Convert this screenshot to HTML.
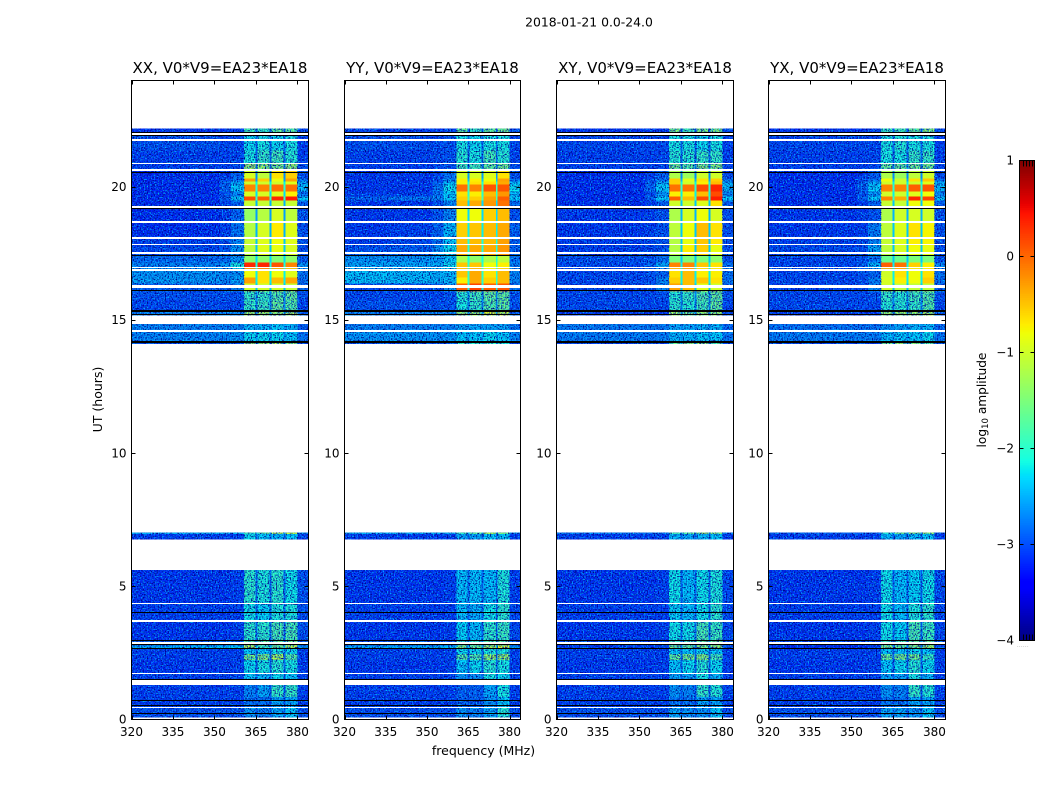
<!DOCTYPE html>
<html lang="en">
<head>
<meta charset="utf-8">
<title>2018-01-21 0.0-24.0</title>
<style>
html,body{margin:0;padding:0;background:#fff;}
body{width:1050px;height:800px;overflow:hidden;}
svg{display:block;}
text{font-family:"DejaVu Sans","Liberation Sans",sans-serif;fill:#000;}
</style>
</head>
<body>
<svg id="chart" xmlns="http://www.w3.org/2000/svg" width="1050" height="800" viewBox="0 0 1050 800">
  <defs>
    <filter id="speckle-dark" x="0" y="0" width="1" height="1" color-interpolation-filters="sRGB">
      <feTurbulence type="fractalNoise" baseFrequency="0.72" numOctaves="1" seed="3"/>
      <feColorMatrix type="matrix" values="0 0 0 0 0  0 0 0 0 0  0 0 0 0 0.55  3.6 0 0 0 -1.55"/>
    </filter>
    <filter id="speckle-light" x="0" y="0" width="1" height="1" color-interpolation-filters="sRGB">
      <feTurbulence type="fractalNoise" baseFrequency="0.72" numOctaves="1" seed="11"/>
      <feColorMatrix type="matrix" values="0 0 0 0 0  0 0 0 0 0.8  0 0 0 0 1  0 3.2 0 0 -1.6"/>
    </filter>
  </defs>
  <text x="589" y="26.5" font-size="12.4" text-anchor="middle">2018-01-21 0.0-24.0</text>
  <text x="483.5" y="755" font-size="12.5" text-anchor="middle">frequency (MHz)</text>
  <text x="102" y="399.5" font-size="12.5" text-anchor="middle" transform="rotate(-90 102 399.5)">UT (hours)</text>
  <text x="986" y="400" font-size="12.2" text-anchor="middle" transform="rotate(-90 986 400)">log<tspan font-size="8.5" dy="2">10</tspan><tspan dy="-2"> amplitude</tspan></text>
  <text x="1017" y="647" font-size="5" letter-spacing="0.4" style="fill:#888">......</text>
  <g id="panels"></g>
  <g id="colorbar"></g>
</svg>
<script>
// ---- chart data: amplitudes are log10 values ----
const panelTitles = ["XX, V0*V9=EA23*EA18", "YY, V0*V9=EA23*EA18", "XY, V0*V9=EA23*EA18", "YX, V0*V9=EA23*EA18"];
const xTicks = [320, 335, 350, 365, 380];
const yTicks = [0, 5, 10, 15, 20];
const colorbarTicks = [-4, -3, -2, -1, 0, 1];
// frequency channel edges (MHz) and the column of each level row they read
const channelEdges = [320, 336, 352, 356, 360.7, 364.8, 365.5, 369.9, 370.6, 375, 375.7, 380, 384];
const channelColumn = [0, 1, 2, 3, 4, 9, 5, 9, 6, 9, 7, 8];
// time rows: [upper hour, lower hour]
const timeRows = [
[22.20,22.05],[22.05,21.37],[21.37,20.88],[20.88,20.62],[20.62,20.32],[20.32,20.21],[20.21,20.10],[20.10,19.83],
[19.83,19.65],[19.65,19.50],[19.50,19.23],[19.23,18.67],[18.67,18.07],[18.07,17.81],[17.81,17.43],[17.43,17.17],
[17.17,16.94],[16.94,16.61],[16.61,16.38],[16.38,16.08],[16.08,15.74],[15.74,15.33],[15.33,15.18],[14.85,14.55],
[14.55,14.17],[14.17,14.10],[7.02,6.96],[6.96,6.76],[5.61,4.33],[4.33,3.70],[3.70,2.95],[2.95,2.78],
[2.78,2.66],[2.66,2.46],[2.46,2.23],[2.23,1.71],[1.71,1.48],[1.29,0.84],[0.84,0.43],[0.43,0.08]];
// level columns: low-a, low-b, shoulder-a, shoulder-b, band1, band2, band3, band4, edge, notch
const levelsXX = [
[-3.15,-3.15,-3.15,-3.1,-1.8,-1.9,-1.6,-1.6,-3.0,-3.0],
[-3.0,-3.0,-3.05,-3.05,-2.2,-2.1,-2.2,-2.1,-3.1,-2.9],
[-3.1,-3.1,-3.1,-3.05,-2.1,-1.9,-1.8,-2.0,-3.1,-2.9],
[-3.1,-3.1,-3.1,-3.05,-1.2,-1.3,-1.4,-1.3,-3.0,-2.8],
[-3.2,-3.2,-3.1,-2.9,-0.95,-1.1,-0.65,-0.55,-3.0,-2.7],
[-3.2,-3.2,-3.0,-2.8,-0.3,-0.55,-0.8,-0.3,-2.8,-2.6],
[-3.2,-3.2,-2.9,-2.5,-1.0,-1.0,-1.0,-0.9,-2.5,-2.2],
[-3.2,-3.2,-2.9,-2.3,-0.15,-0.15,-0.05,-0.05,-2.4,-2.0],
[-3.2,-3.2,-3.0,-2.7,-0.95,-0.95,-0.9,-0.72,-2.8,-2.3],
[-3.2,-3.2,-2.9,-2.3,0.15,0.05,0.35,0.4,-2.3,-1.9],
[-3.2,-3.2,-3.1,-2.9,-1.05,-1.05,-1.05,-1.05,-2.9,-2.5],
[-3.2,-3.2,-3.1,-2.9,-1.35,-1.15,-0.95,-1.1,-3.0,-2.6],
[-3.2,-3.2,-3.1,-2.8,-1.15,-0.95,-0.7,-0.9,-3.0,-2.5],
[-3.1,-3.1,-3.0,-2.7,-1.05,-0.9,-0.8,-0.9,-3.0,-2.4],
[-3.05,-3.05,-2.95,-2.6,-1.1,-0.9,-0.85,-0.95,-3.0,-2.4],
[-2.85,-2.85,-2.8,-2.6,-1.4,-1.4,-1.45,-1.4,-2.9,-2.3],
[-2.7,-2.7,-2.6,-2.1,0.35,0.35,0.1,-0.15,-2.6,-2.1],
[-2.6,-2.6,-2.7,-2.6,-0.8,-0.65,-0.8,-0.9,-2.8,-2.2],
[-2.55,-2.6,-2.7,-2.55,-0.3,-0.65,-0.45,-0.35,-2.8,-2.2],
[-2.9,-2.9,-2.9,-2.7,-1.0,-1.0,-1.0,-1.05,-2.9,-2.4],
[-3.0,-3.0,-3.0,-3.0,-1.9,-1.9,-1.7,-1.6,-3.0,-2.7],
[-3.05,-3.05,-3.05,-3.05,-1.9,-1.85,-1.6,-1.7,-3.05,-2.7],
[-2.7,-2.7,-2.7,-2.7,-1.2,-1.2,-1.3,-1.2,-2.9,-2.6],
[-2.7,-2.7,-2.7,-2.7,-2.4,-2.4,-2.3,-2.4,-2.9,-2.6],
[-2.7,-2.7,-2.7,-2.6,-2.2,-2.2,-2.2,-2.3,-2.8,-2.6],
[-3.0,-3.0,-3.0,-3.0,-1.3,-1.3,-1.1,-1.3,-3.0,-2.8],
[-2.5,-2.5,-2.5,-2.5,-1.9,-1.6,-1.1,-1.1,-2.6,-2.4],
[-3.1,-3.1,-3.1,-3.1,-2.2,-2.3,-2.4,-2.3,-3.1,-2.9],
[-3.15,-3.15,-3.15,-3.1,-1.95,-2.05,-1.95,-2.15,-3.0,-2.9],
[-3.1,-3.1,-3.1,-3.1,-2.15,-2.25,-2.05,-2.05,-3.0,-2.9],
[-3.15,-3.15,-3.15,-3.1,-1.95,-1.95,-1.75,-1.75,-3.0,-2.9],
[-2.9,-2.9,-2.9,-2.9,-1.6,-1.6,-1.5,-1.5,-3.0,-2.8],
[-2.5,-2.4,-2.4,-2.3,-1.0,-1.8,-1.5,-1.0,-2.6,-2.3],
[-3.1,-3.1,-3.1,-3.1,-2.3,-2.3,-2.1,-2.2,-3.1,-2.9],
[-3.1,-3.1,-3.1,-3.1,-1.5,-1.4,-1.2,-1.7,-3.1,-2.9],
[-3.15,-3.15,-3.15,-3.1,-2.2,-2.1,-2.0,-2.1,-3.1,-2.9],
[-3.1,-3.1,-3.1,-3.1,-2.3,-2.4,-2.2,-2.3,-3.1,-2.9],
[-3.1,-3.1,-3.1,-3.1,-2.7,-2.5,-1.9,-1.9,-3.1,-3.0],
[-3.1,-3.1,-3.1,-3.1,-2.8,-2.8,-2.5,-2.5,-3.1,-3.0],
[-3.0,-3.0,-3.0,-3.0,-2.6,-2.7,-2.5,-2.3,-3.0,-2.9]];
const levelsYY = [
[-3.1,-3.1,-3.1,-3.05,-1.6,-1.9,-1.6,-1.5,-3.0,-3.0],
[-3.0,-3.0,-3.05,-3.0,-2.1,-2.2,-2.1,-2.1,-3.05,-2.9],
[-3.1,-3.1,-3.05,-3.0,-2.0,-2.1,-1.8,-2.0,-3.05,-2.9],
[-3.1,-3.1,-3.05,-3.0,-1.8,-1.8,-1.6,-1.5,-3.0,-2.8],
[-3.15,-3.15,-3.05,-2.8,-0.95,-0.95,-0.9,-0.65,-3.0,-2.6],
[-3.15,-3.15,-3.0,-2.7,-0.72,-0.72,-0.8,-0.3,-2.8,-2.4],
[-3.15,-3.15,-2.9,-2.4,-0.72,-0.65,-0.65,-0.35,-2.4,-2.1],
[-3.15,-3.15,-2.8,-2.2,-0.05,-0.15,0.1,0.1,-2.2,-1.9],
[-3.1,-3.1,-2.8,-2.3,-0.65,-0.72,-0.45,-0.25,-2.4,-2.0],
[-2.9,-2.8,-2.7,-2.3,-0.55,-0.55,-0.3,0.05,-2.3,-1.8],
[-3.15,-3.15,-3.0,-2.7,-0.45,-0.35,-0.25,-0.05,-2.8,-2.3],
[-3.15,-3.15,-3.0,-2.7,-0.8,-0.8,-0.55,-0.45,-3.0,-2.3],
[-3.15,-3.1,-2.9,-2.4,-0.55,-0.5,-0.45,-0.35,-2.9,-2.2],
[-3.1,-3.05,-2.8,-2.3,-0.45,-0.45,-0.45,-0.3,-2.9,-2.1],
[-3.0,-2.95,-2.6,-2.2,-0.35,-0.35,-0.35,-0.25,-2.9,-2.1],
[-2.6,-2.6,-2.55,-2.3,-1.2,-1.4,-1.2,-1.1,-2.8,-2.1],
[-2.5,-2.5,-2.45,-2.2,-0.5,-0.5,-0.8,-0.72,-2.7,-2.0],
[-2.35,-2.4,-2.45,-2.4,-0.5,-0.35,-0.65,-0.45,-2.7,-2.0],
[-2.35,-2.4,-2.45,-2.4,-0.72,-0.35,-0.55,-0.45,-2.7,-2.0],
[-3.0,-3.0,-2.9,-2.6,0.05,0.2,0.05,0.1,-2.8,-2.2],
[-3.05,-3.05,-3.05,-3.0,-2.0,-1.8,-1.6,-1.6,-3.0,-2.7],
[-3.0,-3.0,-3.0,-3.0,-2.1,-1.9,-1.7,-1.6,-3.0,-2.7],
[-2.7,-2.7,-2.7,-2.7,-1.25,-1.2,-0.9,-0.95,-2.9,-2.6],
[-2.7,-2.7,-2.7,-2.7,-2.5,-2.5,-2.5,-2.5,-2.8,-2.6],
[-2.6,-2.6,-2.6,-2.6,-2.3,-2.3,-2.2,-2.3,-2.7,-2.5],
[-3.0,-3.0,-3.0,-3.0,-2.0,-2.0,-1.9,-2.0,-3.0,-2.8],
[-2.5,-2.5,-2.5,-2.5,-1.9,-1.7,-1.2,-1.5,-2.6,-2.4],
[-3.1,-3.1,-3.1,-3.1,-2.5,-2.5,-2.3,-2.3,-3.1,-2.9],
[-3.15,-3.15,-3.15,-3.1,-2.35,-2.35,-2.35,-2.05,-3.1,-2.9],
[-3.1,-3.1,-3.1,-3.1,-2.35,-2.45,-2.15,-1.95,-3.05,-2.9],
[-3.15,-3.15,-3.15,-3.1,-2.25,-2.35,-1.95,-1.85,-3.05,-2.9],
[-2.95,-2.95,-2.95,-2.95,-1.9,-1.9,-1.7,-1.6,-3.0,-2.8],
[-2.5,-2.5,-2.45,-2.4,-1.4,-1.5,-1.1,-0.8,-2.6,-2.3],
[-3.1,-3.1,-3.1,-3.1,-2.2,-2.2,-2.1,-2.1,-3.1,-2.9],
[-3.1,-3.1,-3.1,-3.1,-1.7,-1.7,-1.3,-1.3,-3.1,-2.9],
[-3.15,-3.15,-3.15,-3.1,-2.3,-2.2,-2.0,-2.1,-3.1,-2.9],
[-3.1,-3.1,-3.1,-3.1,-2.6,-2.6,-2.1,-2.2,-3.1,-2.9],
[-3.1,-3.1,-3.1,-3.1,-2.9,-2.9,-2.5,-2.1,-3.1,-3.0],
[-3.1,-3.1,-3.1,-3.1,-2.9,-2.9,-2.6,-2.3,-3.1,-3.0],
[-3.0,-3.0,-3.0,-3.0,-2.6,-2.7,-2.5,-2.0,-3.0,-2.9]];
const levelsXY = [
[-3.15,-3.15,-3.15,-3.1,-1.4,-1.8,-1.4,-1.4,-3.05,-3.0],
[-3.05,-3.05,-3.05,-3.05,-2.1,-2.1,-2.2,-2.1,-3.1,-2.9],
[-3.1,-3.1,-3.1,-3.05,-2.0,-2.0,-1.9,-1.9,-3.1,-2.9],
[-3.1,-3.1,-3.1,-3.05,-1.5,-1.7,-1.4,-1.4,-3.05,-2.8],
[-3.2,-3.2,-3.1,-2.9,-1.2,-1.3,-1.0,-1.0,-3.0,-2.7],
[-3.2,-3.2,-3.0,-2.8,-0.55,-0.9,-0.65,-0.55,-2.8,-2.5],
[-3.2,-3.2,-2.9,-2.5,-0.55,-1.0,-0.72,-0.45,-2.5,-2.2],
[-3.2,-3.2,-2.9,-2.3,-0.05,-0.05,0.15,0.35,-2.4,-2.0],
[-3.2,-3.2,-3.0,-2.6,-0.72,-0.72,-0.45,0.15,-2.7,-2.2],
[-3.2,-3.2,-2.9,-2.3,0.05,-0.45,0.15,0.4,-2.3,-1.9],
[-3.2,-3.2,-3.1,-2.9,-1.0,-1.0,-0.9,-0.65,-2.9,-2.4],
[-3.15,-3.15,-3.1,-3.0,-1.2,-0.95,-0.8,-0.95,-3.0,-2.5],
[-3.15,-3.15,-3.1,-3.0,-1.1,-0.8,-0.45,-0.65,-3.0,-2.4],
[-3.1,-3.1,-3.05,-3.0,-1.15,-0.85,-0.5,-0.7,-3.0,-2.4],
[-3.1,-3.1,-3.05,-3.0,-1.15,-0.72,-0.55,-0.85,-3.0,-2.4],
[-3.0,-3.0,-3.0,-2.8,-1.5,-1.5,-1.5,-1.4,-3.0,-2.4],
[-3.05,-3.05,-2.9,-2.5,-0.15,-0.15,-0.5,-0.65,-2.8,-2.2],
[-3.05,-3.05,-3.0,-2.9,-0.65,-0.45,-0.72,-0.72,-2.8,-2.2],
[-3.05,-3.05,-3.0,-2.7,-0.55,-0.45,-0.5,-0.65,-2.8,-2.2],
[-3.05,-3.05,-3.0,-2.7,-0.3,-0.45,-0.9,-1.0,-2.9,-2.4],
[-3.05,-3.05,-3.05,-3.0,-2.0,-1.9,-1.7,-1.6,-3.0,-2.7],
[-3.05,-3.05,-3.05,-3.05,-1.95,-2.0,-1.8,-1.6,-3.05,-2.7],
[-3.1,-3.1,-3.1,-3.1,-1.25,-1.5,-1.3,-1.3,-3.0,-2.7],
[-2.75,-2.75,-2.75,-2.75,-2.5,-2.5,-2.4,-2.4,-2.85,-2.7],
[-2.75,-2.75,-2.75,-2.75,-2.4,-2.4,-2.3,-2.3,-2.8,-2.6],
[-3.05,-3.05,-3.05,-3.05,-1.6,-1.4,-1.3,-1.7,-3.0,-2.8],
[-2.8,-2.8,-2.8,-2.8,-1.8,-1.7,-1.3,-1.4,-2.8,-2.6],
[-3.1,-3.1,-3.1,-3.1,-2.4,-2.5,-2.4,-2.3,-3.1,-2.9],
[-3.15,-3.15,-3.15,-3.1,-2.15,-2.35,-2.15,-2.05,-3.05,-2.9],
[-3.1,-3.1,-3.1,-3.1,-2.25,-2.35,-2.15,-1.95,-3.05,-2.9],
[-3.15,-3.15,-3.15,-3.1,-2.15,-2.15,-1.75,-1.85,-3.05,-2.9],
[-3.05,-3.05,-3.05,-3.05,-1.8,-1.8,-1.6,-1.5,-3.05,-2.9],
[-3.1,-3.1,-3.1,-3.05,-1.4,-1.6,-1.4,-1.2,-3.0,-2.7],
[-3.1,-3.1,-3.1,-3.1,-2.3,-2.3,-2.2,-2.3,-3.1,-2.9],
[-3.1,-3.1,-3.1,-3.1,-1.6,-1.5,-1.4,-1.8,-3.1,-2.9],
[-3.15,-3.15,-3.15,-3.1,-2.3,-2.2,-2.0,-2.2,-3.1,-2.9],
[-3.1,-3.1,-3.1,-3.1,-2.5,-2.5,-2.1,-2.4,-3.1,-2.9],
[-3.1,-3.1,-3.1,-3.1,-2.6,-2.7,-1.9,-2.0,-3.1,-3.0],
[-3.1,-3.1,-3.1,-3.1,-2.8,-2.8,-2.5,-2.5,-3.1,-3.0],
[-3.0,-3.0,-3.0,-3.0,-2.5,-2.6,-2.6,-2.3,-3.0,-2.9]];
const levelsYX = [
[-3.15,-3.15,-3.15,-3.1,-1.9,-1.8,-1.6,-1.4,-3.05,-3.0],
[-3.05,-3.05,-3.05,-3.05,-2.1,-2.0,-2.1,-2.1,-3.1,-2.9],
[-3.1,-3.1,-3.1,-3.05,-2.1,-2.1,-1.9,-1.9,-3.1,-2.9],
[-3.1,-3.1,-3.1,-3.05,-1.6,-1.6,-1.5,-1.5,-3.05,-2.8],
[-3.2,-3.2,-3.1,-2.95,-1.2,-1.3,-1.1,-1.0,-3.0,-2.7],
[-3.2,-3.2,-3.0,-2.8,-0.8,-1.0,-0.65,-0.5,-2.8,-2.5],
[-3.2,-3.2,-2.9,-2.5,-1.0,-1.0,-1.0,-0.9,-2.5,-2.2],
[-3.2,-3.2,-2.9,-2.3,-0.15,-0.15,0.05,0.1,-2.4,-2.0],
[-3.2,-3.2,-3.0,-2.6,-1.0,-1.0,-0.9,-0.8,-2.7,-2.2],
[-3.2,-3.2,-2.9,-2.3,-0.15,-0.35,0.35,0.2,-2.3,-1.9],
[-3.2,-3.2,-3.1,-2.9,-1.05,-1.05,-0.8,-0.8,-2.9,-2.4],
[-3.15,-3.15,-3.1,-3.0,-1.2,-1.0,-0.95,-1.0,-3.0,-2.5],
[-3.15,-3.15,-3.1,-2.75,-1.1,-0.9,-0.65,-0.75,-3.0,-2.4],
[-3.1,-3.1,-3.05,-2.7,-1.05,-0.9,-0.72,-0.75,-3.0,-2.4],
[-3.05,-3.05,-3.0,-2.5,-1.1,-0.95,-0.8,-0.85,-3.0,-2.4],
[-3.05,-3.05,-3.0,-2.8,-1.6,-1.6,-1.5,-1.5,-3.0,-2.4],
[-3.05,-3.05,-2.9,-2.4,0.05,-0.05,-0.55,-0.72,-2.7,-2.2],
[-3.05,-3.05,-3.0,-2.9,-1.0,-0.65,-0.8,-0.65,-2.8,-2.2],
[-3.05,-3.05,-3.0,-2.75,-0.95,-0.72,-0.8,-0.55,-2.8,-2.2],
[-3.05,-3.05,-3.0,-2.7,-1.0,-1.1,-1.1,-1.1,-2.9,-2.4],
[-3.05,-3.05,-3.05,-3.0,-1.9,-2.0,-1.8,-1.7,-3.0,-2.7],
[-3.05,-3.05,-3.05,-3.05,-2.0,-2.0,-1.9,-1.7,-3.05,-2.7],
[-3.1,-3.1,-3.1,-3.1,-1.3,-1.3,-1.3,-1.2,-3.0,-2.7],
[-2.8,-2.8,-2.8,-2.8,-2.6,-2.5,-2.4,-2.4,-2.85,-2.7],
[-2.75,-2.75,-2.75,-2.75,-2.4,-2.3,-2.3,-2.2,-2.8,-2.6],
[-3.05,-3.05,-3.05,-3.05,-1.5,-1.3,-1.4,-1.7,-3.0,-2.8],
[-2.9,-2.9,-2.9,-2.9,-2.0,-1.6,-1.4,-1.3,-2.85,-2.6],
[-3.1,-3.1,-3.1,-3.1,-2.4,-2.5,-2.4,-2.3,-3.1,-2.9],
[-3.15,-3.15,-3.15,-3.1,-2.15,-2.35,-2.25,-2.15,-3.05,-2.9],
[-3.1,-3.1,-3.1,-3.1,-2.15,-2.35,-2.05,-1.95,-3.05,-2.9],
[-3.15,-3.15,-3.15,-3.1,-2.15,-2.25,-1.75,-1.85,-3.05,-2.9],
[-3.05,-3.05,-3.05,-3.05,-1.8,-1.8,-1.6,-1.5,-3.05,-2.9],
[-3.2,-3.2,-3.2,-3.15,-1.3,-1.6,-1.4,-1.2,-3.05,-2.7],
[-3.1,-3.1,-3.1,-3.1,-2.3,-2.3,-2.2,-2.3,-3.1,-2.9],
[-3.1,-3.1,-3.1,-3.1,-1.6,-1.5,-1.5,-1.9,-3.1,-2.9],
[-3.15,-3.15,-3.15,-3.1,-2.3,-2.2,-2.0,-2.2,-3.1,-2.9],
[-3.1,-3.1,-3.1,-3.1,-2.5,-2.5,-2.1,-2.4,-3.1,-2.9],
[-3.1,-3.1,-3.1,-3.1,-2.6,-2.7,-1.9,-2.0,-3.1,-3.0],
[-3.1,-3.1,-3.1,-3.1,-2.8,-2.8,-2.5,-2.5,-3.1,-3.0],
[-3.0,-3.0,-3.0,-3.0,-2.5,-2.5,-2.6,-2.3,-3.0,-2.9]];
const panelLevels = [levelsXX, levelsYY, levelsXY, levelsYX];
// hours with no data (masked, drawn white)
const noDataSpans = [[24,22.2],[15.18,14.85],[14.1,7.02],[6.76,5.61],[1.48,1.29],[0.08,0]];
// flagged integrations (hours)
const whiteFlags = [[22.01,21.97],[21.79,21.74],[20.92,20.87],[20.66,20.60],[19.27,19.23],[18.71,18.66],[18.11,18.06],[17.86,17.81],[17.54,17.50],[16.98,16.94],[16.91,16.86],[16.31,16.21],[14.62,14.57],[4.37,4.33],[3.73,3.67],[2.91,2.85],[1.75,1.70],[0.47,0.42]];
const blackFlags = [[22.07,22.02],[21.94,21.90],[20.58,20.52],[19.23,19.20],[17.43,17.40],[16.13,16.08],[15.37,15.32],[15.23,15.18],[14.22,14.15],[4.03,3.99],[2.98,2.94],[2.83,2.79],[2.67,2.64],[1.52,1.48],[0.75,0.71],[0.54,0.51],[0.26,0.22]];

// ---- layout and scales ----
const NS = "http://www.w3.org/2000/svg";
const panelLeft = [131.5, 344.5, 556.5, 768.5];
const panelRight = [308.5, 520.5, 733.5, 945.5];
const plotTop = 80.5, plotBottom = 719.5;
const xMin = 320, xMax = 384, yMax = 24;
const vMin = -4, vMax = 1;
function xPos(p, mhz) { return panelLeft[p] + (mhz - xMin) * (panelRight[p] - panelLeft[p]) / (xMax - xMin); }
function yPos(h) { return plotBottom - h * (plotBottom - plotTop) / yMax; }
function ramp(t, pts) {
  if (t <= pts[0][0]) return pts[0][1];
  for (let i = 1; i < pts.length; i++) {
    if (t <= pts[i][0]) {
      const a = pts[i - 1], b = pts[i];
      return a[1] + (b[1] - a[1]) * (t - a[0]) / (b[0] - a[0]);
    }
  }
  return pts[pts.length - 1][1];
}
function jet(v) {
  const t = Math.max(0, Math.min(1, (v - vMin) / (vMax - vMin)));
  const r = ramp(t, [[0.35, 0], [0.66, 1], [0.89, 1], [1, 0.5]]);
  const g = ramp(t, [[0.125, 0], [0.375, 1], [0.64, 1], [0.91, 0]]);
  const b = ramp(t, [[0, 0.5], [0.11, 1], [0.34, 1], [0.65, 0]]);
  return "rgb(" + Math.round(r * 255) + "," + Math.round(g * 255) + "," + Math.round(b * 255) + ")";
}
function makeRect(parent, x, y, w, h, fill) {
  const el = document.createElementNS(NS, "rect");
  el.setAttribute("x", x.toFixed(2));
  el.setAttribute("y", y.toFixed(2));
  el.setAttribute("width", w.toFixed(2));
  el.setAttribute("height", h.toFixed(2));
  el.setAttribute("fill", fill);
  parent.appendChild(el);
  return el;
}
function makeFlagRect(parent, p, span, fill) {
  const y0 = Math.round(yPos(span[0]));
  const y1 = Math.max(y0 + 1, Math.round(yPos(span[1])));
  return makeRect(parent, panelLeft[p], y0, panelRight[p] - panelLeft[p], y1 - y0, fill);
}
function makeText(parent, x, y, size, anchor, str) {
  const el = document.createElementNS(NS, "text");
  el.setAttribute("x", x);
  el.setAttribute("y", y);
  el.setAttribute("font-size", size);
  el.setAttribute("text-anchor", anchor);
  el.textContent = str;
  parent.appendChild(el);
  return el;
}
function makeLine(parent, x1, y1, x2, y2) {
  const el = document.createElementNS(NS, "line");
  el.setAttribute("x1", x1);
  el.setAttribute("y1", y1);
  el.setAttribute("x2", x2);
  el.setAttribute("y2", y2);
  el.setAttribute("stroke", "#000");
  el.setAttribute("stroke-width", "1");
  parent.appendChild(el);
  return el;
}

// ---- panels ----
const panelsGroup = document.getElementById("panels");
panelTitles.forEach(function (title, p) {
  const g = document.createElementNS(NS, "g");
  
  
  g.setAttribute("shape-rendering", "crispEdges");
  panelsGroup.appendChild(g);

  // heatmap cells
  timeRows.forEach(function (row, r) {
    channelColumn.forEach(function (col, c) {
      const x0 = xPos(p, channelEdges[c]);
      const x1 = xPos(p, channelEdges[c + 1]);
      const y0 = yPos(row[0]);
      const y1 = yPos(row[1]);
      const cell = makeRect(g, x0, y0, x1 - x0, y1 - y0, jet(panelLevels[p][r][col]));
      
      
    });
  });

  // visibility speckle over the faint regions
  const speckleAreas = [
    [xMin, channelEdges[4], 22.2, 0],
    [channelEdges[11], xMax, 22.2, 0],
    [channelEdges[4], channelEdges[11], 22.2, 20.62],
    [channelEdges[4], channelEdges[11], 16.08, 0]
  ];
  speckleAreas.forEach(function (area) {
    ["speckle-dark", "speckle-light"].forEach(function (id) {
      const s = makeRect(g, xPos(p, area[0]), yPos(area[2]), xPos(p, area[1]) - xPos(p, area[0]), yPos(area[3]) - yPos(area[2]), "#000");
      s.setAttribute("filter", "url(#" + id + ")");
      
      
    });
  });

  // masked spans and flags
  noDataSpans.forEach(function (span) {
    const m = makeRect(g, panelLeft[p], yPos(span[0]), panelRight[p] - panelLeft[p], yPos(span[1]) - yPos(span[0]), "#fff");
    
    
  });
  whiteFlags.forEach(function (f) {
    const m = makeFlagRect(g, p, f, "#fff");
    
    
  });
  blackFlags.forEach(function (f) {
    const m = makeFlagRect(g, p, f, "#000");
    
    
  });

  // frame
  const frame = makeRect(g, panelLeft[p], plotTop, panelRight[p] - panelLeft[p], plotBottom - plotTop, "none");
  frame.setAttribute("stroke", "#000");
  frame.setAttribute("stroke-width", "1");
  
  

  // ticks
  xTicks.forEach(function (t) {
    const x = Math.round(xPos(p, t)) + 0.5;
    const a = makeLine(g, x, plotBottom, x, plotBottom - 4);
    
    
    const b = makeLine(g, x, plotTop, x, plotTop + 4);
    
    
    const lab = makeText(panelsGroup, xPos(p, t), 736, 12, "middle", String(t));
    
    
  });
  yTicks.forEach(function (t) {
    const y = Math.round(yPos(t) - 0.5) + 0.5;
    const a = makeLine(g, panelLeft[p], y, panelLeft[p] + 4, y);
    
    
    const b = makeLine(g, panelRight[p], y, panelRight[p] - 4, y);
    
    
    const lab = makeText(panelsGroup, panelLeft[p] - 5, yPos(t) + 4, 12, "end", String(t));
    
    
  });

  const tt = makeText(panelsGroup, (panelLeft[p] + panelRight[p]) / 2, 73, 15, "middle", title);
  
  
});

// ---- colorbar ----
const cbLeft = 1019.5, cbRight = 1034.5, cbTop = 160.5, cbBottom = 640.5;
const cbGroup = document.getElementById("colorbar");
cbGroup.setAttribute("shape-rendering", "crispEdges");
function cbY(v) { return cbBottom - (v - vMin) * (cbBottom - cbTop) / (vMax - vMin); }
const cbSteps = 256;
for (let i = 0; i < cbSteps; i++) {
  const v0 = vMin + (vMax - vMin) * i / cbSteps;
  const v1 = vMin + (vMax - vMin) * (i + 1) / cbSteps;
  const seg = makeRect(cbGroup, cbLeft, cbY(v1), cbRight - cbLeft, cbY(v0) - cbY(v1) + 0.5, jet((v0 + v1) / 2));
  
  
}
const cbFrame = makeRect(cbGroup, cbLeft, cbTop, cbRight - cbLeft, cbBottom - cbTop, "none");
cbFrame.setAttribute("stroke", "#000");
cbFrame.setAttribute("stroke-width", "1");


colorbarTicks.forEach(function (v) {
  const y = Math.round(cbY(v) - 0.5) + 0.5;
  const a = makeLine(cbGroup, cbLeft, y, cbLeft + 4, y);
  
  
  const b = makeLine(cbGroup, cbRight, y, cbRight - 4, y);
  
  
  const lab = makeText(cbGroup, 1014, cbY(v) + 4, 12, "end", v < 0 ? "\u2212" + Math.abs(v) : String(v));
  
  
});
[1, 2, 3, 4].forEach(function (k) {
  const x = Math.round(cbLeft + k * (cbRight - cbLeft) / 5) + 0.5;
  const a = makeLine(cbGroup, x, cbTop, x, cbTop + 6);
  
  
  const b = makeLine(cbGroup, x, cbBottom, x, cbBottom - 6);
  
  
});
</script>
</body>
</html>
